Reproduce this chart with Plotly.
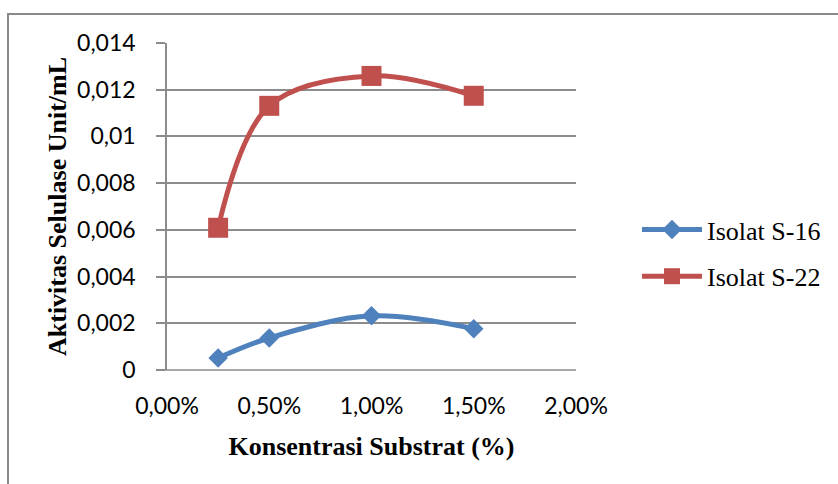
import plotly.graph_objects as go

# Substrate concentration (fraction, shown as %)
konsentrasi = [0.0025, 0.005, 0.010, 0.015]

# Cellulase activity (Unit/mL) for each isolate
isolat_s16 = [0.00051, 0.00137, 0.00232, 0.00177]
isolat_s22 = [0.00609, 0.01131, 0.01259, 0.01174]

x_ticks = [0.0, 0.005, 0.010, 0.015, 0.020]
x_tick_labels = ["0,00%", "0,50%", "1,00%", "1,50%", "2,00%"]
y_ticks = [0, 0.002, 0.004, 0.006, 0.008, 0.010, 0.012, 0.014]
y_tick_labels = ["0", "0,002", "0,004", "0,006", "0,008", "0,01", "0,012", "0,014"]

BLUE = "#4F81BD"
RED = "#C0504D"
GRID = "#8C8C8C"

fig = go.Figure()
fig.add_trace(go.Scatter(
    x=konsentrasi, y=isolat_s16, name="Isolat S-16", legendgroup="a",
    mode="lines+markers",
    line=dict(color=BLUE, width=5, shape="spline", smoothing=1.0),
    marker=dict(symbol="diamond", size=15, color=BLUE),
))
fig.add_trace(go.Scatter(
    x=konsentrasi, y=isolat_s22, name="Isolat S-22", legendgroup="b",
    mode="lines+markers",
    line=dict(color=RED, width=5, shape="spline", smoothing=1.0),
    marker=dict(symbol="square", size=20, color=RED),
))

# plot area: x 167..576 px, y 43..370 px
L, R, T, B = 167, 576, 43, 370
W, H = 838, 484

def px_x(p):
    return (p - L) / (R - L)

def px_y(p):
    return (B - p) / (B - T)

fig.update_layout(
    width=W, height=H,
    margin=dict(l=L, r=W - R, t=T, b=H - B, pad=0),
    paper_bgcolor="white", plot_bgcolor="white",
    showlegend=True,
    legend=dict(
        xref="container", yref="container",
        x=637 / W, y=1 - 206 / H, xanchor="left", yanchor="top",
        font=dict(family="Liberation Serif", size=26, color="black"),
        bgcolor="rgba(0,0,0,0)", tracegroupgap=10, itemwidth=60,
    ),
    xaxis=dict(
        range=[0, 0.02], tickvals=x_ticks, ticktext=x_tick_labels,
        showgrid=False, zeroline=False, showline=False, ticks="",
        tickfont=dict(family="Lato", size=23, color="black"),
        ticklabelstandoff=20,
        title=dict(text="<b>Konsentrasi Substrat (%)</b>", standoff=18,
                   font=dict(family="Liberation Serif", size=26, color="black")),
    ),
    yaxis=dict(
        range=[0, 0.014], tickvals=y_ticks, ticktext=y_tick_labels,
        showgrid=True, gridcolor=GRID, gridwidth=1.5,
        zeroline=False, showline=True, linecolor=GRID, linewidth=1.5,
        ticks="outside", ticklen=9, tickcolor=GRID, tickwidth=1.5,
        tickfont=dict(family="Lato", size=23, color="black"),
        ticklabelstandoff=16,
        title=dict(text="<b>Aktivitas Selulase Unit/mL</b>", standoff=3,
                   font=dict(family="Liberation Serif", size=26, color="black")),
    ),
    shapes=[
        # baseline of the value axis
        dict(type="line", xref="paper", yref="paper",
             x0=px_x(158), x1=1, y0=0, y1=0,
             line=dict(color=GRID, width=1.5), layer="below"),
        # outer chart frame
        dict(type="rect", xref="paper", yref="paper",
             x0=px_x(8), x1=px_x(850), y0=px_y(14), y1=px_y(500),
             line=dict(color="#8A8A8A", width=2), layer="below"),
    ],
)

fig.write_html("out.html")
